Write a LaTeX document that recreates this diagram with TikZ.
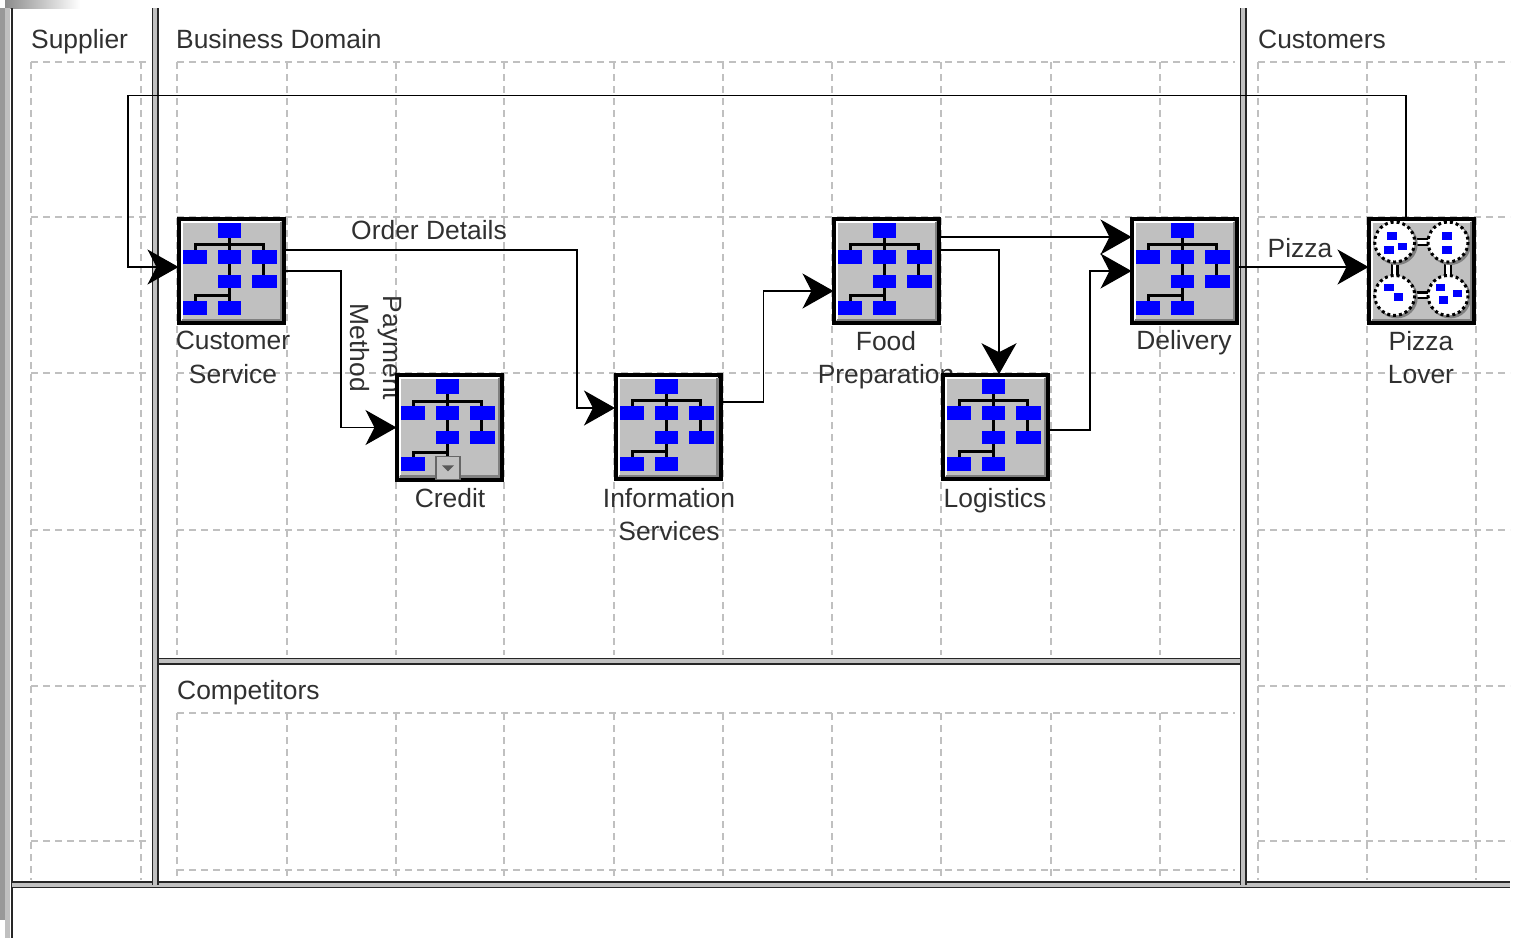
\documentclass[tikz,border=0pt]{standalone}
\usepackage{fontspec}
\setmainfont{Liberation Sans}
\usetikzlibrary{arrows.meta}
\definecolor{panel}{HTML}{C0C0C0}
\definecolor{inktext}{HTML}{303030}
\tikzset{
  gridline/.style={draw=panel,line width=1.2pt,dash pattern=on 7pt off 5pt},
  lanebar/.style={draw=black!85,line width=1.5pt,double=panel,double distance=4pt},
  lanetitle/.style={anchor=base west,text=inktext,font=\fontsize{26.4}{33.5}\selectfont,inner sep=0pt},
  tag/.style={text=inktext,font=\fontsize{26.4}{33.5}\selectfont,align=center,inner sep=0pt},
  flow/.style={draw=black,line width=1.2pt,shorten >=-1.5pt,-{Stealth[length=31pt,width=35pt,inset=9pt]}},
  iconbox/.style={draw=black,line width=4.2pt,fill=panel,minimum width=104.8pt,minimum height=104.3pt,inner sep=0pt},
  chip/.style={fill={rgb,255:red,0;green,0;blue,255}},
  wire/.style={draw=black,line width=3pt},
  pics/bevel/.style={code={
    \draw[white,line width=2pt] (5,103) -- (5,5) -- (104,5);
    \draw[black!50,line width=2.5pt] (5,103) -- (104,103) -- (104,5);
  }},
  pics/orgchart/.style={code={
    \pic {bevel};
    \draw[wire] (52.7,21) -- (52.7,84) (18.7,33) -- (18.7,28) -- (86.7,28) -- (86.7,58) (18.7,84) -- (18.7,79) -- (52.7,79);
    \foreach \bx/\by/\ex/\ey in {41/6/64/21,6/33/30/47,41/33/64/47,75/33/100/47,41/58/64/71,75/58/100/71,6/84/30/98,41/84/64/98}
      \fill[chip] (\bx,\by) rectangle (\ex,\ey);
  }},
  pics/peers/.style={code={
    \pic {bevel};
    \draw[draw=black,line width=8pt] (27.7,25.3) rectangle (81,78.7);
    \draw[draw=white,line width=3.5pt] (27.7,25.3) rectangle (81,78.7);
    \foreach \cx/\cy in {27.7/25.3,81/25.3,27.7/78.7,81/78.7} {
      \fill[black!50] (\cx+2,\cy+2) circle (21);
      \draw[fill=white,line width=3pt,dash pattern=on 3pt off 3pt] (\cx,\cy) circle (20);
    }
    \foreach \bx/\by in {25/19.3,22/33.3,35.7/30,80/19.3,80/33.3,22/70.7,31.7/80.3,73.3/70.7,90.7/77,76.7/83.3}
      \fill[chip] (\bx-4.7,\by-3.6) rectangle (\bx+4.7,\by+3.6);
  }}
}
\begin{document}
\begin{tikzpicture}[x=1pt,y=-1pt]
\useasboundingbox (0,0) rectangle (1518,938);
% window edge
\shade[left color=black!45,right color=white] (5,0) rectangle (80,8);
\fill[black!40] (0,8) rectangle (5,920);
\fill[panel] (5,8) rectangle (10,938);
\draw[draw=black!85,line width=2.5pt] (12,8) -- (12,938);
% grid of each lane
\foreach \x in {31,141} \draw[gridline] (\x,62) -- (\x,880);
\foreach \y in {62,217,373,530,686,841} \draw[gridline] (31,\y) -- (150,\y);
\foreach \x in {177,287,396,504,614,723,832,941,1051,1160} {
  \draw[gridline] (\x,62) -- (\x,655);
  \draw[gridline] (\x,713) -- (\x,878);
}
\foreach \y in {62,217,373,530,713,870} \draw[gridline] (177,\y) -- (1235,\y);
\foreach \x in {1258,1367,1476} \draw[gridline] (\x,62) -- (\x,880);
\foreach \y in {62,217,373,530,686,841} \draw[gridline] (1258,\y) -- (1510,\y);
% lanes
\draw[lanebar] (12,884.5) -- (1510,884.5);
\draw[lanebar] (158,661) -- (1240,661);
\draw[lanebar] (155,8) -- (155,885);
\draw[lanebar] (1243,8) -- (1243,885);
\node[lanetitle] (supplier) at (31,48) {Supplier};
\node[lanetitle] (business) at (176,48) {Business Domain};
\node[lanetitle] (customers) at (1258,48) {Customers};
\node[lanetitle] (competitors) at (177,699) {Competitors};
% labels go under the boxes
\node[tag] (custlab) at (233,357.5) {Customer\\Service};
\node[tag] (creditlab) at (450,498) {Credit};
\node[tag] (infolab) at (669,514.5) {Information\\Services};
\node[tag] (foodlab) at (886,360) {Food\\Preparation};
\node[tag] (logilab) at (995,501) {Logistics};
\node[tag] (delivlab) at (1184,343) {Delivery};
\node[tag] (loverlab) at (1421,357.5) {Pizza\\Lover};
\node[tag] (orderlab) at (429,230) {Order Details};
\node[tag] (pizzalab) at (1300,248) {Pizza};
\node[tag,rotate=-90] (paylab) at (376,348) {Payment\\Method};
% boxes
\node[iconbox] (custsvc) at (231.5,271) {};
\node[iconbox] (credit) at (449.5,427.5) {};
\node[iconbox] (infosvc) at (668,427) {};
\node[iconbox] (food) at (886.5,271) {};
\node[iconbox] (logistics) at (995.5,427) {};
\node[iconbox] (delivery) at (1184.5,271) {};
\node[iconbox] (lover) at (1421.5,271) {};
\foreach \n in {custsvc,credit,infosvc,food,logistics,delivery}
  \pic at (\n.north west) {orgchart};
\pic at (lover.north west) {peers};
% drop-down mark on credit
\filldraw[fill=panel,draw=black!60,line width=1.2pt] ([shift={(41,83)}]credit.north west) rectangle ([shift={(65,106)}]credit.north west);
\fill[black!65] ([shift={(47,92)}]credit.north west) -- ([shift={(59,92)}]credit.north west) -- ([shift={(53,98)}]credit.north west) -- cycle;
% connectors
\draw[flow] ([xshift=-15.5pt]lover.north) -- ++(0,-121) -- ++(-1278,0) |- ([yshift=4pt]custsvc.west);
\draw[flow] ([yshift=21pt]custsvc.east) -- ++(291,0) |- ([yshift=19pt]infosvc.west);
\draw[flow] (custsvc.east) -- ++(55,0) |- (credit.west);
\draw[flow] ([yshift=25pt]infosvc.east) -- ++(41,0) |- ([yshift=-20pt]food.west);
\draw[flow] ([yshift=34pt]food.east) -- ([yshift=34pt]delivery.west);
\draw[flow] ([yshift=21pt]food.east) -| ([xshift=3.5pt]logistics.north);
\draw[flow] ([yshift=-3pt]logistics.east) -- ++(40,0) |- (delivery.west);
\draw[flow] ([yshift=4pt]delivery.east) -- ([yshift=4pt]lover.west);
\end{tikzpicture}
\end{document}
